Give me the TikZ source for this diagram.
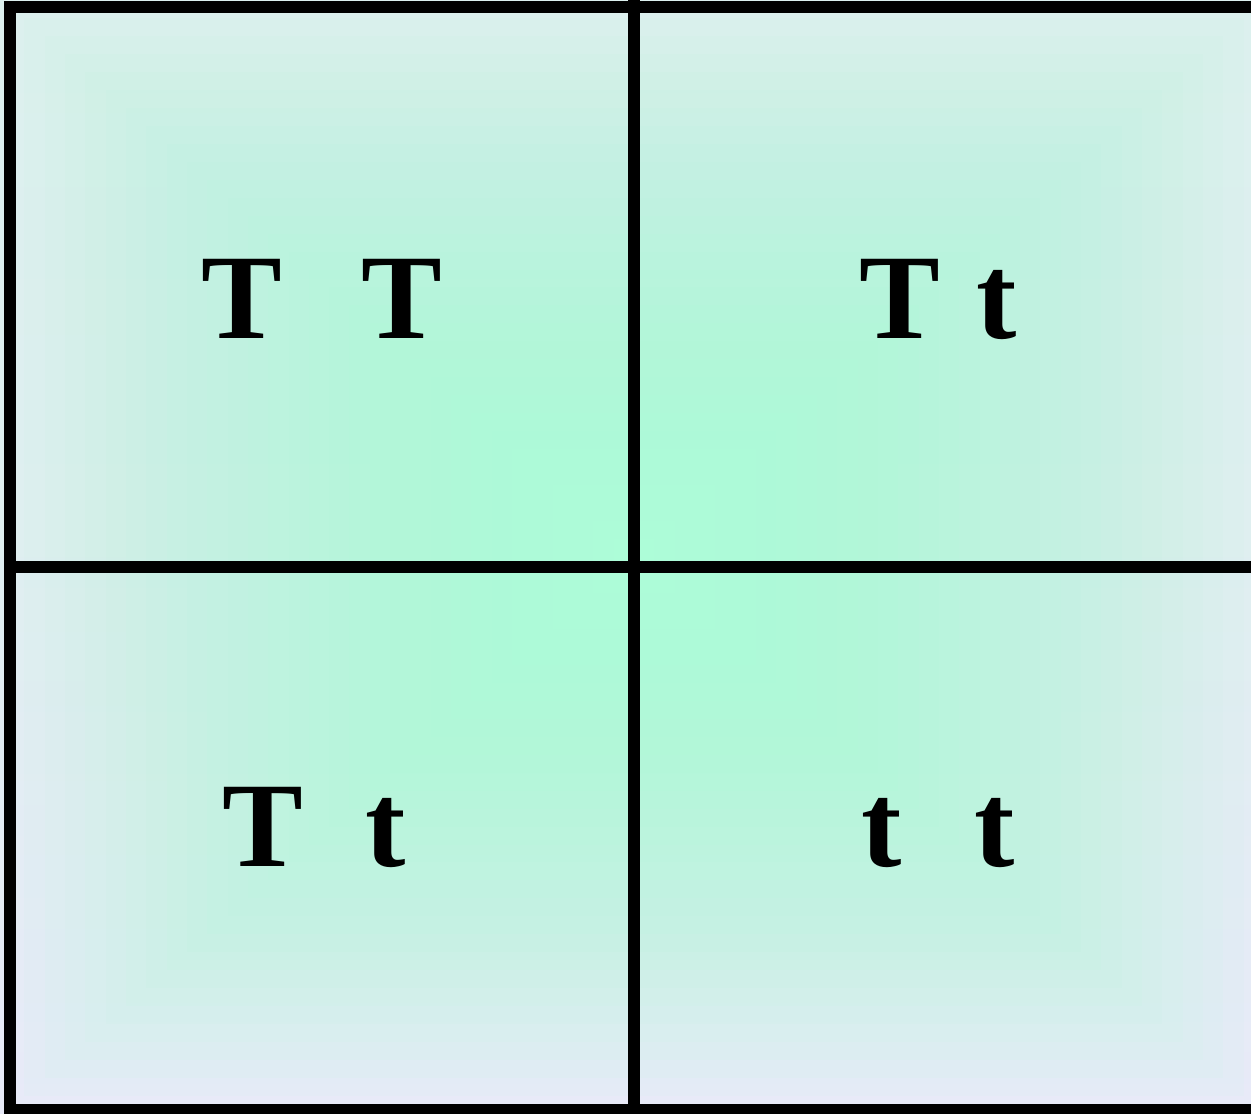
\documentclass[tikz,border=0pt]{standalone}
\usepackage{fontspec}
\setmainfont{Liberation Serif}
\usepackage{tikz}
\usetikzlibrary{positioning}

\definecolor{edgetop}{HTML}{DCF0EE}
\definecolor{edgebot}{HTML}{E8EAF8}
\definecolor{core}{HTML}{ADFDD8}

\begin{document}
\begin{tikzpicture}[
    x=1pt, y=-1pt,
    grid/.style={line width=12pt, black},
    allele/.style={anchor=base, inner sep=0pt, font=\fontsize{121}{121}\selectfont\bfseries}
  ]
  \useasboundingbox (0,0) rectangle (1251,1114);
  \clip (0,0) rectangle (1251,1114);

  % background: soft edge, green core
  \shade[top color=edgetop, bottom color=edgebot, middle color=edgetop!75!edgebot]
    (0,0) rectangle (1270,1114);
  \foreach \k in {1,...,30}{
    \pgfmathsetmacro\op{1-((30-\k)/(31-\k))^1.7}
    \pgfmathsetmacro\s{1-\k/31}
    \fill[core, fill opacity=\op]
      ({634-630*\s},{557-557*\s}) rectangle ({634+630*\s},{557+557*\s});
  }

  % the square
  \draw[grid] (1280,7) -- (10,7) -- (10,1110) -- (1280,1110);
  \draw[grid] (634,0) -- (634,1114);
  \draw[grid] (10,567) -- (1280,567);

  % genotypes
  \node[allele] (tt1) at (322,338) {T\hspace{0.65em}T};
  \node[allele] (tt2) at (938,338) {T\hspace{0.3em}t};
  \node[allele] (tt3) at (314,866) {T\hspace{0.52em}t};
  \node[allele] (tt4) at (938,866) {t\hspace{0.6em}t};
\end{tikzpicture}
\end{document}
